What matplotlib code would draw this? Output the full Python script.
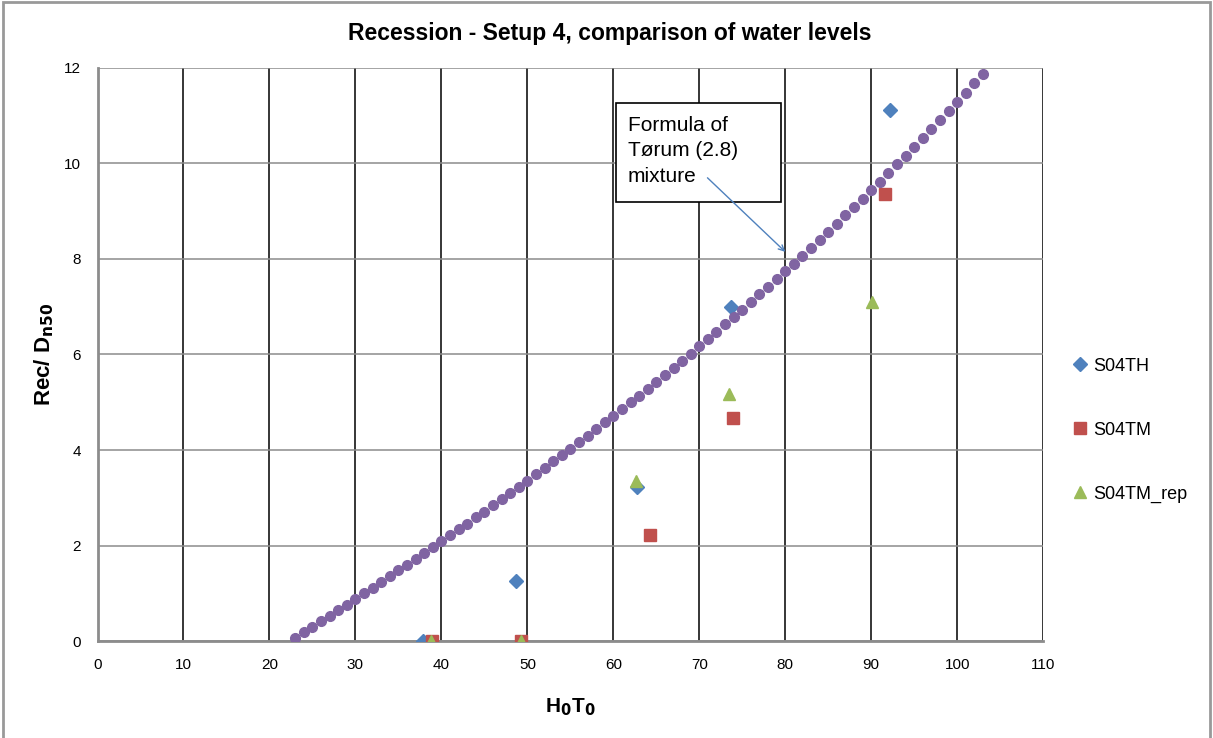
import numpy as np
import matplotlib.pyplot as plt
from matplotlib.patches import Rectangle

plt.rcParams["font.family"] = ["Liberation Sans", "DejaVu Sans"]

# measured recession, Setup 4
th_x = [37.9, 48.7, 62.8, 73.7, 92.2]
th_y = [0.0, 1.25, 3.22, 6.99, 11.12]
tm_x = [38.9, 49.3, 64.3, 73.9, 91.6]
tm_y = [0.0, 0.0, 2.22, 4.67, 9.36]
rep_x = [38.8, 49.3, 62.6, 73.4, 90.1]
rep_y = [0.0, 0.0, 3.35, 5.18, 7.10]

# Torum (2.8), mixture
torum_x = list(range(23, 104))
torum_y = [0.07, 0.18, 0.30, 0.41, 0.53, 0.65, 0.76, 0.88, 1.00, 1.12,
           1.24, 1.36, 1.48, 1.60, 1.72, 1.84, 1.96, 2.09, 2.21, 2.34,
           2.46, 2.59, 2.71, 2.84, 2.97, 3.10, 3.23, 3.36, 3.49, 3.62,
           3.76, 3.89, 4.03, 4.16, 4.30, 4.44, 4.58, 4.72, 4.86, 5.00,
           5.14, 5.28, 5.43, 5.58, 5.72, 5.87, 6.02, 6.17, 6.32, 6.47,
           6.63, 6.78, 6.94, 7.10, 7.26, 7.42, 7.58, 7.74, 7.90, 8.07,
           8.24, 8.40, 8.57, 8.74, 8.92, 9.09, 9.26, 9.44, 9.62, 9.80,
           9.98, 10.16, 10.35, 10.53, 10.72, 10.91, 11.10, 11.29, 11.48, 11.68,
           11.88]

fig = plt.figure(figsize = (12.13, 7.38), dpi = 100)
ax = fig.add_axes([0.0804, 0.1314, 0.7796, 0.7765])

ax.plot(th_x, th_y, ls = "none", marker = "D", ms = 7, c = "#4F81BD", mec = "#4F81BD", label = "S04TH", zorder = 3)
ax.plot(tm_x, tm_y, ls = "none", marker = "s", ms = 8, c = "#C0504D", mec = "#C0504D", label = "S04TM", zorder = 3)
ax.plot(rep_x, rep_y, ls = "none", marker = "^", ms = 9, c = "#9BBB59", mec = "#9BBB59", label = "S04TM_rep", zorder = 3)
ax.plot(torum_x, torum_y, ls = "none", marker = "o", ms = 7, c = "#8064A2", mec = "#8064A2", zorder = 4)

ax.set_xlim(0, 110)
ax.set_ylim(0, 12)
ax.set_xticks(np.arange(0, 111, 10))
ax.set_yticks(np.arange(0, 13, 2))
ax.tick_params(length = 0, labelsize = 11, pad = 12)
ax.xaxis.grid(True, color = "black", lw = 1.1)
ax.yaxis.grid(True, color = "#8c8c8c", lw = 1.1)
ax.set_axisbelow(True)
for s in ["top", "right"]:
    ax.spines[s].set_visible(False)
for s in ["left", "bottom"]:
    ax.spines[s].set_color("#8c8c8c")
    ax.spines[s].set_linewidth(2)

fig.suptitle("Recession - Setup 4, comparison of water levels", x = 0.503, y = 0.955, va = "center",
             fontsize = 16.5, fontweight = "bold")
ax.set_xlabel(r"H$_\mathbf{0}$T$_\mathbf{0}$", fontsize = 15, fontweight = "bold", labelpad = 18)
ax.set_ylabel(r"Rec/ D$_\mathbf{n50}$", fontsize = 16, fontweight = "bold", labelpad = 6)

# text box with arrow onto the formula curve
ax.add_patch(Rectangle((60.26, 9.19), 19.3, 2.08, fc = "white", ec = "black", lw = 1.2, zorder = 5))
ax.text(61.7, 11.0, "Formula of\nTørum (2.8)\nmixture", fontsize = 15, va = "top", ha = "left",
        linespacing = 1.45, zorder = 6)
ax.annotate("", xy = (80.0, 8.15), xytext = (70.95, 9.70),
            arrowprops = dict(arrowstyle = "->", color = "#4F81BD", lw = 1, shrinkA = 0, shrinkB = 0),
            zorder = 6)

ax.legend(loc = "center left", bbox_to_anchor = (1.02, 0.368), frameon = False, fontsize = 13,
          handletextpad = 0.1, labelspacing = 2.6, handlelength = 1.2, borderaxespad = 0)

fig.patches.append(Rectangle((3 / 1213, -0.01), 1207 / 1213, 1.0073, transform = fig.transFigure,
                             fill = False, ec = "#999999", lw = 2))
fig.savefig("out.png")
plt.close(fig)
